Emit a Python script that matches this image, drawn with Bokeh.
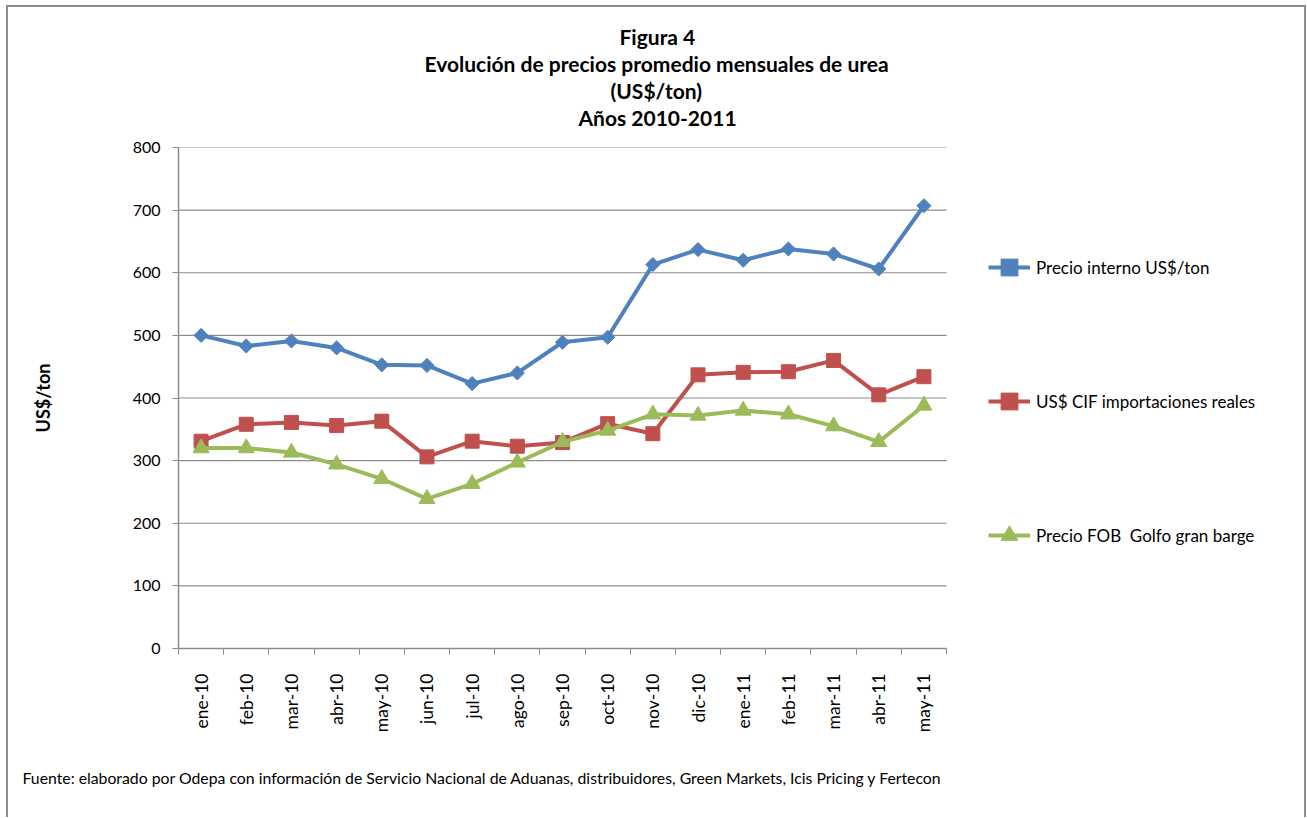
import math
from bokeh.plotting import figure
from bokeh.models import Range1d, FixedTicker, Legend, LegendItem, Title
from bokeh.embed import file_html
from bokeh.resources import INLINE

months = ["ene-10", "feb-10", "mar-10", "abr-10", "may-10", "jun-10", "jul-10",
          "ago-10", "sep-10", "oct-10", "nov-10", "dic-10", "ene-11", "feb-11",
          "mar-11", "abr-11", "may-11"]
precio_interno = [500, 483, 491, 480, 453, 452, 423, 440, 489, 497, 613, 637, 620, 638, 630, 606, 707]
cif_importaciones = [331, 358, 361, 356, 363, 306, 331, 323, 329, 359, 343, 437, 441, 442, 460, 405, 434]
fob_golfo = [320, 320, 313, 294, 271, 239, 263, 297, 330, 348, 374, 372, 380, 374, 355, 330, 388]
y_ticks = [0, 100, 200, 300, 400, 500, 600, 700, 800]
series_names = ["Precio interno US$/ton", "US$ CIF importaciones reales", "Precio FOB  Golfo gran barge"]
title_lines = ["Figura 4", "Evolución de precios promedio mensuales de urea", "(US$/ton)", "Años 2010-2011"]
footnote = ("Fuente: elaborado por Odepa con información de Servicio Nacional de Aduanas, "
            "distribuidores, Green Markets, Icis Pricing y Fertecon")

FONT = "Lato"
GRAY = "#8c8c8c"
xs = list(range(len(months)))
X_LO, X_HI = -0.5, len(months) - 0.5          # category area
CANVAS_W, LEFT = 1300, 170
CAT_PX = 768 / len(months)                     # pixels per category
X_END = X_LO + (CANVAS_W - LEFT) / CAT_PX      # range extended to hold the legend

p = figure(width=CANVAS_W, height=812, output_backend="svg", toolbar_location=None,
           x_range=Range1d(X_LO, X_END), y_range=Range1d(0, 800),
           min_border_left=LEFT, min_border_right=0, min_border_top=140, min_border_bottom=171)
p.outline_line_color = None
p.background_fill_color = "white"
p.border_fill_color = "white"
p.styles = {"margin-left": "6px", "margin-top": "5px",
            "border-left": "2px solid #8c8c8c", "border-top": "2px solid #8c8c8c",
            "border-right": "2px solid #8c8c8c", "box-sizing": "border-box"}

# gridlines limited to the category area
p.xgrid.visible = False
p.ygrid.visible = False
p.segment(x0=[X_LO] * len(y_ticks), x1=[X_HI] * len(y_ticks), y0=y_ticks, y1=y_ticks,
          line_color=GRAY, line_width=1.2)

# axes
p.yaxis.ticker = FixedTicker(ticks=y_ticks)
p.yaxis.axis_line_color = GRAY
p.yaxis.axis_line_width = 1.5
p.yaxis.major_tick_line_color = GRAY
p.yaxis.major_tick_out = 6
p.yaxis.major_tick_in = 0
p.yaxis.minor_tick_line_color = None
p.yaxis.major_label_standoff = 12
p.yaxis.major_label_text_font = FONT
p.yaxis.major_label_text_font_size = "16px"
p.yaxis.major_label_text_color = "black"
p.yaxis.axis_label = "US$/ton"
p.yaxis.axis_label_text_font = FONT
p.yaxis.axis_label_text_font_size = "18px"
p.yaxis.axis_label_text_font_style = "bold"
p.yaxis.axis_label_text_color = "black"
p.yaxis.axis_label_standoff = 76

p.xaxis.bounds = (X_LO, X_HI)
p.xaxis.ticker = FixedTicker(ticks=xs, minor_ticks=[i - 0.5 for i in range(len(months) + 1)])
p.xaxis.major_label_overrides = {i: m for i, m in enumerate(months)}
p.xaxis.axis_line_color = GRAY
p.xaxis.axis_line_width = 1.5
p.xaxis.major_tick_out = 0
p.xaxis.major_tick_in = 0
p.xaxis.minor_tick_out = 6
p.xaxis.minor_tick_in = 0
p.xaxis.minor_tick_line_color = GRAY
p.xaxis.major_label_orientation = math.pi / 2
p.xaxis.major_label_standoff = 19
p.xaxis.major_label_text_font = FONT
p.xaxis.major_label_text_font_size = "17.5px"
p.xaxis.major_label_text_color = "black"

colors = ["#4F81BD", "#C0504D", "#9BBB59"]
markers = ["square", "square", "triangle"]
angles = [math.pi / 4, 0, 0]
sizes = [10, 14, 16]
data = [precio_interno, cif_importaciones, fob_golfo]
items = []
for name, vals, c, m, a, s in zip(series_names, data, colors, markers, angles, sizes):
    ln = p.line(xs, vals, line_color=c, line_width=4)
    sc = p.scatter(xs, vals, marker=m, angle=a, size=s, fill_color=c, line_color=c)
    items.append(LegendItem(label=name, renderers=[ln, sc]))

legend = Legend(items=items, location=(810, 46), orientation="vertical", spacing=0,
                glyph_width=42, glyph_height=134, label_height=134, label_standoff=6,
                padding=0, margin=0, border_line_color=None, background_fill_alpha=0,
                label_text_font=FONT, label_text_font_size="17px", label_text_color="black")
p.add_layout(legend)

# title lines, stacked above the frame (first added is nearest the frame)
p.add_layout(Title(text=" ", align="left", standoff=14, text_font=FONT,
                   text_font_size="2px"), "above")
title_offsets = [441, 246, 432, 400]
for txt, off in reversed(list(zip(title_lines, title_offsets))):
    p.add_layout(Title(text=txt, align="left", offset=off, standoff=0,
                       text_font=FONT, text_font_size="21px", text_font_style="bold",
                       text_color="black"), "above")

p.add_layout(Title(text=footnote, align="left", offset=-156, standoff=61,
                   text_font=FONT, text_font_size="15.8px", text_font_style="normal",
                   text_color="black"), "below")

open("out.html", "w").write(file_html(p, INLINE))
